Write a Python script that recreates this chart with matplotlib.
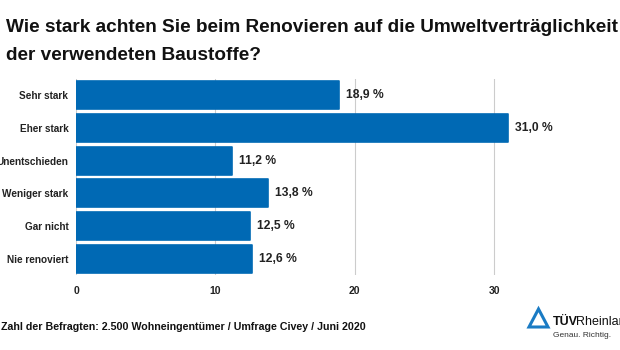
import matplotlib
matplotlib.use("Agg")
import matplotlib.pyplot as plt
from matplotlib.patches import Polygon

categories = ["Sehr stark", "Eher stark", "Unentschieden", "Weniger stark", "Gar nicht", "Nie renoviert"]
values = [18.9, 31.0, 11.2, 13.8, 12.5, 12.6]
xticks = [0, 10, 20, 30]

plt.rcParams['font.family'] = ['Liberation Sans', 'DejaVu Sans']
blue = "#0069b4"

fig = plt.figure(figsize=(6.2, 3.5), dpi=100)
ax = fig.add_axes([76/620, 1-275/350, (536-76)/620, 196/350])

y = list(range(len(categories)))
ax.barh(y, values, height=0.85, color=blue, edgecolor=blue, linewidth=1.2,
        joinstyle='round', zorder=3)
for yi, v in zip(y, values):
    ax.text(v + 0.5, yi, f"{v:.1f} %".replace(".", ","), va='center', ha='left',
            fontsize=8.7, fontweight='bold', color='#222222')
ax.set_xlim(0, 33)
ax.set_ylim(len(categories)-0.5, -0.5)
ax.set_yticks(y)
ax.set_yticklabels(categories, fontsize=7.2, fontweight='bold', color='#222222')
ax.set_xticks(xticks)
ax.set_xticklabels([str(t) for t in xticks], fontsize=7.5, fontweight='bold', color='#222222')
ax.tick_params(length=0, pad=8)
ax.tick_params(axis='y', pad=5.5)
ax.grid(axis='x', color='#cccccc', linewidth=0.8, zorder=0)
for s in ax.spines.values():
    s.set_visible(False)

fig.text(6/620, 1-32/350, "Wie stark achten Sie beim Renovieren auf die Umweltverträglichkeit",
         fontsize=13.7, fontweight='bold', ha='left', va='baseline', color='#111111')
fig.text(6/620, 1-60/350, "der verwendeten Baustoffe?",
         fontsize=13.7, fontweight='bold', ha='left', va='baseline', color='#111111')
fig.text(1/620, 1-330/350, "Zahl der Befragten: 2.500 Wohneingentümer / Umfrage Civey / Juni 2020",
         fontsize=7.7, fontweight='bold', ha='left', va='baseline', color='#111111')

# logo
tri = Polygon([[529/620, 1-327/350], [548/620, 1-327/350], [538.5/620, 1-309/350]],
              closed=True, fill=False, edgecolor='#1a7bc4', linewidth=2.2,
              transform=fig.transFigure)
fig.patches.append(tri)
fig.text(553/620, 1-325/350, "TÜV", fontsize=9, fontweight='bold', color='#111111',
         ha='left', va='baseline')
fig.text(576/620, 1-325/350, "Rheinland", fontsize=9, color='#111111', ha='left', va='baseline')
fig.text(553/620, 1-337/350, "Genau. Richtig.", fontsize=6, color='#333333', ha='left', va='baseline')

fig.savefig("out.png", dpi=100)
